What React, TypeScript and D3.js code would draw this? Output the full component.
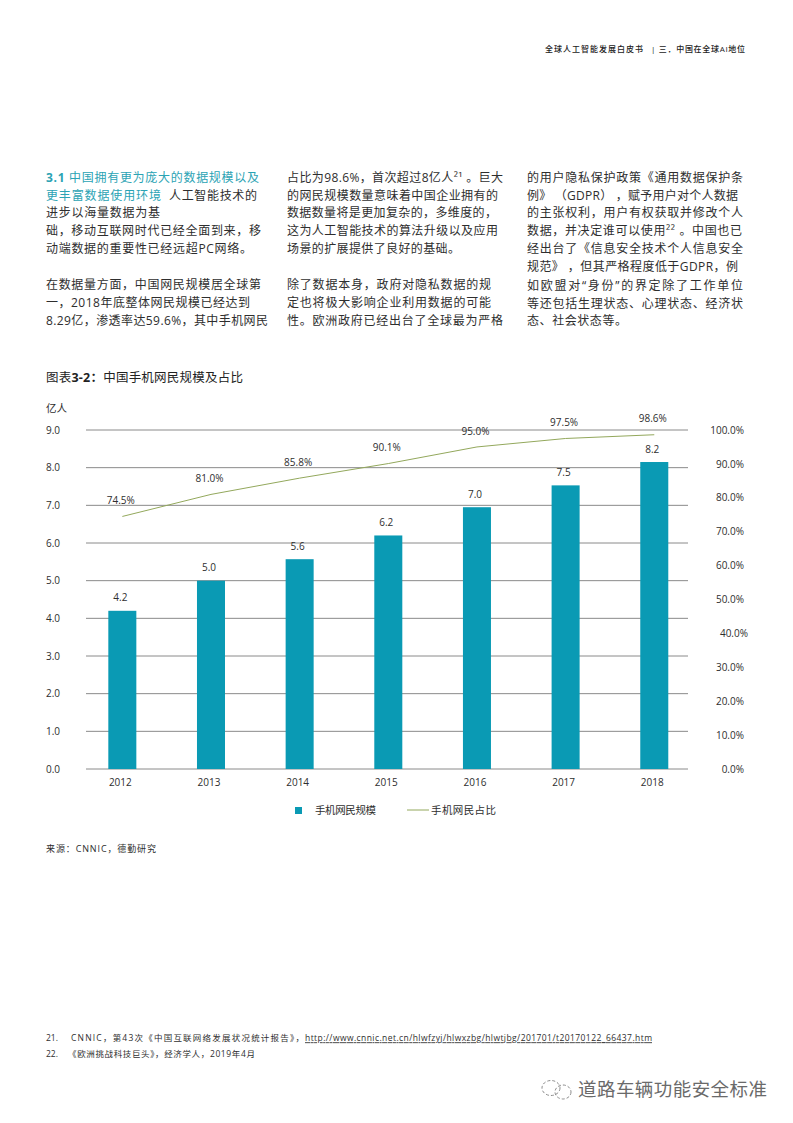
import React from "react";
import * as d3 from "d3";

const years = ["2012", "2013", "2014", "2015", "2016", "2017", "2018"];
const users = [4.2, 5.0, 5.57, 6.2, 6.95, 7.53, 8.15];
const share = [74.5, 81.0, 85.8, 90.1, 95.0, 97.5, 98.6];
const leftTicks = [0, 1, 2, 3, 4, 5, 6, 7, 8, 9];
const rightTicks = [0, 10, 20, 30, 40, 50, 60, 70, 80, 90, 100];

const TEAL_TEXT = "#2ba3b4";
const BAR = "#0a9ab4";
const LINE = "#93a85c";
const INK = "#2e2e2e";
const LATIN = "'Open Sans','Noto Sans CJK SC',sans-serif";

const mid = { dominantBaseline: "middle" as const, dy: 1 };
const midBody = { dominantBaseline: "middle" as const, dy: 1.5 };

type L = { t: string; x: number; y: number; end: number };
const col = (x: number, rows: [string, number, number][]): L[] =>
  rows.map(([t, y, end]) => ({ t, x, y, end }));

const body: L[] = [
  ...col(46, [
    ["进步以海量数据为基", 212, 160],
    ["础，移动互联网时代已经全面到来，移", 230, 261],
    ["动端数据的重要性已经远超PC网络。", 248, 252],
    ["在数据量方面，中国网民规模居全球第", 284, 261],
    ["一，2018年底整体网民规模已经达到", 302, 250],
    ["8.29亿，渗透率达59.6%，其中手机网民", 320, 268],
  ]),
  ...col(287, [
    ["占比为98.6%，首次超过8亿人²¹ 。巨大", 177, 503],
    ["的网民规模数量意味着中国企业拥有的", 195, 498],
    ["数据数量将是更加复杂的，多维度的，", 212, 497],
    ["这为人工智能技术的算法升级以及应用", 230, 498],
    ["场景的扩展提供了良好的基础。", 248, 460],
    ["除了数据本身，政府对隐私数据的规", 284, 491],
    ["定也将极大影响企业利用数据的可能", 302, 491],
    ["性。欧洲政府已经出台了全球最为严格", 320, 503],
  ]),
  ...col(527, [
    ["的用户隐私保护政策《通用数据保护条", 177, 743],
    ["例》 （GDPR） ，赋予用户对个人数据", 195, 738],
    ["的主张权利，用户有权获取并修改个人", 212, 743],
    ["数据，并决定谁可以使用²² 。中国也已", 230, 742],
    ["经出台了《信息安全技术个人信息安全", 248, 743],
    ["规范》 ，但其严格程度低于GDPR，例", 266, 738],
    ["如欧盟对“身份”的界定除了工作单位", 285, 743],
    ["等还包括生理状态、心理状态、经济状", 303, 743],
    ["态、社会状态等。", 320, 627],
  ]),
];

const Txt = ({ l }: { l: L }) => (
  <text
    x={l.x}
    y={l.y}
    {...midBody}
    fontSize={12}
    fill={INK}
    textLength={l.end - l.x}
    lengthAdjust="spacing"
  >
    {l.t}
  </text>
);

export default function App() {
  const x = d3.scaleBand<string>().domain(years).range([78, 698.6]).paddingInner(0.684).paddingOuter(0.342);
  const yL = d3.scaleLinear().domain([0, 9]).range([769, 430]);
  const yR = d3.scaleLinear().domain([0, 100]).range([769, 430]);
  const cx = (i: number) => (x(years[i]) as number) + x.bandwidth() / 2;
  const linePath = d3
    .line<number>()
    .x((_, i) => cx(i))
    .y((d) => yR(d))(share) as string;

  return (
    <svg
      width={793}
      height={1123}
      viewBox="0 0 793 1123"
      style={{ position: "absolute", left: 0, top: 0, background: "#fff" }}
      fontFamily={LATIN}
    >
      {/* Header */}
      <text x={545} y={49} {...mid} fontSize={8} fontWeight={500} fill="#222" textLength={98} lengthAdjust="spacing">
        全球人工智能发展白皮书
      </text>
      <text x={651} y={49} {...mid} fontSize={8} fontWeight={500} fill="#222" textLength={94} lengthAdjust="spacing">
        | 三．中国在全球AI地位
      </text>

      {/* Body text */}
      <text x={46} y={177} {...midBody} fontSize={12} fill={TEAL_TEXT} textLength={213} lengthAdjust="spacing">
        <tspan fontWeight={700}>3.1 </tspan>中国拥有更为庞大的数据规模以及
      </text>
      <text x={46} y={195} {...midBody} fontSize={12} fill={TEAL_TEXT} textLength={115} lengthAdjust="spacing">
        更丰富数据使用环境
      </text>
      <text x={169} y={195} {...midBody} fontSize={12} fill={INK} textLength={88} lengthAdjust="spacing">
        人工智能技术的
      </text>
      {body.map((l, i) => (
        <Txt key={i} l={l} />
      ))}

      {/* Chart title */}
      <text x={46} y={378} {...mid} fontSize={12.5} fill="#222" textLength={197} lengthAdjust="spacing">
        图表<tspan fontWeight={700}>3-2：</tspan>中国手机网民规模及占比
      </text>
      <text x={46} y={408} {...mid} fontSize={10.5} fill={INK}>
        亿人
      </text>

      {/* Grid */}
      {leftTicks.map((t) => (
        <g key={t}>
          <line x1={86} x2={688} y1={yL(t)} y2={yL(t)} stroke="#8a8a8a" strokeWidth={1} />
          <text x={46} y={yL(t)} {...mid} fontSize={10} fill={INK}>
            {t.toFixed(1)}
          </text>
        </g>
      ))}

      {/* Right axis */}
      {rightTicks.map((t) => (
        <text key={t} x={t === 40 ? 748 : 744} y={yR(t)} textAnchor="end" {...mid} fontSize={10} fill={INK}>
          {t.toFixed(1)}%
        </text>
      ))}

      {/* Bars */}
      {users.map((v, i) => (
        <g key={years[i]}>
          <rect x={x(years[i])} y={yL(v)} width={x.bandwidth()} height={yL(0) - yL(v)} fill={BAR} />
          <text x={cx(i) - 2} y={yL(v) - 13} textAnchor="middle" {...mid} fontSize={10} fill={INK}>
            {v.toFixed(1)}
          </text>
          <text x={cx(i) - 2} y={782} textAnchor="middle" {...mid} fontSize={10} fill={INK}>
            {years[i]}
          </text>
        </g>
      ))}

      {/* Share line */}
      <path d={linePath} fill="none" stroke={LINE} strokeWidth={1} />
      {share.map((v, i) => (
        <text key={i} x={cx(i) - 1.5} y={yR(v) - 16} textAnchor="middle" {...mid} fontSize={10} fill={INK}>
          {v.toFixed(1)}%
        </text>
      ))}

      {/* Legend */}
      <rect x={295} y={807} width={7} height={7} fill={BAR} />
      <text x={315} y={810} {...mid} fontSize={10.5} fill={INK} textLength={61} lengthAdjust="spacing">
        手机网民规模
      </text>
      <line x1={407} x2={429} y1={810} y2={810} stroke={LINE} strokeWidth={1} />
      <text x={431} y={810} {...mid} fontSize={10.5} fill={INK} textLength={65} lengthAdjust="spacing">
        手机网民占比
      </text>

      {/* Source */}
      <text x={46} y={849} {...mid} fontSize={9} fill={INK} textLength={110} lengthAdjust="spacing">
        来源：CNNIC，德勤研究
      </text>

      {/* Footnotes */}
      <text x={46} y={1038} {...mid} fontSize={8.5} fill={INK}>
        21.
      </text>
      <text x={71} y={1038} {...mid} fontSize={8.5} fill={INK} textLength={233} lengthAdjust="spacing">
        CNNIC，第43次《中国互联网络发展状况统计报告》，
      </text>
      <text x={305} y={1038} {...mid} fontSize={8.5} fill={INK} textDecoration="underline" textLength={347} lengthAdjust="spacing">
        http://www.cnnic.net.cn/hlwfzyj/hlwxzbg/hlwtjbg/201701/t20170122_66437.htm
      </text>
      <text x={46} y={1054} {...mid} fontSize={8.5} fill={INK}>
        22.
      </text>
      <text x={68} y={1054} {...mid} fontSize={8.5} fill={INK} textLength={187} lengthAdjust="spacing">
        《欧洲挑战科技巨头》，经济学人，2019年4月
      </text>

      {/* Watermark */}
      <g fill="none" stroke="#8c8c8c" strokeWidth={1} strokeDasharray="3 2">
        <ellipse cx={551} cy={1088} rx={9} ry={7.5} />
        <ellipse cx={563} cy={1092} rx={8} ry={7} />
      </g>
      <text x={578} y={1090} {...mid} fontSize={18.5} fill="#6a6a6a" textLength={189} lengthAdjust="spacing">
        道路车辆功能安全标准
      </text>
    </svg>
  );
}
